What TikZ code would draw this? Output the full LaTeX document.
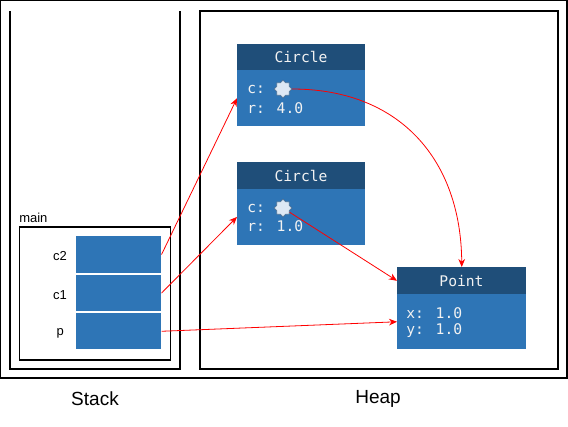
\documentclass[tikz,border=0pt]{standalone}
\usepackage{fontspec}
\setmainfont{Liberation Sans}
\newfontfamily\monofont{DejaVu Sans Mono}
\usetikzlibrary{shapes.geometric,arrows.meta}
\definecolor{hdr}{HTML}{1F4E79}
\definecolor{bdy}{HTML}{2E75B6}
\definecolor{dotfill}{HTML}{DDE8F4}
\definecolor{txt}{HTML}{F2F2F2}
\tikzset{
  frame/.style={draw=black,line width=0.9pt},
  hdrbox/.style={fill=hdr,draw=none,inner sep=0pt,anchor=north west},
  bdybox/.style={fill=bdy,draw=none,inner sep=0pt,anchor=north west},
  cellbox/.style={fill=bdy,draw=none,inner sep=0pt,anchor=north west,minimum width=63.75pt,minimum height=27.4pt},
  hdrtxt/.style={text=txt,font=\monofont\fontsize{11}{13}\selectfont,inner sep=0pt},
  fieldtxt/.style={text=txt,font=\monofont\fontsize{11}{13}\selectfont,inner sep=0pt,anchor=west},
  lbl/.style={font=\fontsize{9.75}{11}\selectfont,inner sep=0pt},
  biglbl/.style={font=\fontsize{14.25}{16}\selectfont,inner sep=0pt},
  ptr/.style={star,star points=8,star point ratio=1.3,fill=dotfill,draw=hdr!80,line width=0.4pt,inner sep=0pt,minimum size=13pt},
  arr/.style={draw=red,line width=0.6pt,-{Stealth[length=6pt,width=5pt]}},
}
\begin{document}
\begin{tikzpicture}[x=0.75pt,y=-0.75pt]
\useasboundingbox (0,0) rectangle (568,426);
% outer frame
\draw[frame] (0.5,0.5) rectangle (567,378);
% stack frame (open at top)
\draw[frame] (10,11) -- (10,369) -- (180,369) -- (180,11);
% heap frame
\draw[frame] (200,11) rectangle (558,369);
% main frame
\draw[frame] (19.5,227) rectangle (170.5,360);
\node[lbl,anchor=south west] (mainlbl) at (19,223) {main};
% cells
\node[cellbox,minimum height=27.4pt] (cc2) at (76,236) {};
\node[cellbox,minimum height=27.4pt] (cc1) at (76,274.5) {};
\node[cellbox,minimum height=27pt] (cp) at (76,313) {};
\node[lbl,anchor=east] (lc2) at (67,256) {c2};
\node[lbl,anchor=east] (lc1) at (67,295) {c1};
\node[lbl,anchor=east] (lp) at (64,333) {p};
% labels
\node[biglbl] (stacklbl) at (95,399) {Stack};
\node[biglbl] (heaplbl) at (378,399) {Heap};
% Circle 1
\node[hdrbox,minimum width=96pt,minimum height=19.5pt] (h1) at (237,44) {};
\node[bdybox,minimum width=96pt,minimum height=42pt] (b1) at (237,70) {};
\node[hdrtxt] (t1) at (301,57) {Circle};
\node[fieldtxt] (f1a) at (247,89) {c:};
\node[fieldtxt] (f1b) at (247,108) {r: 4.0};
% Circle 2
\node[hdrbox,minimum width=96pt,minimum height=20.25pt] (h2) at (237,162) {};
\node[bdybox,minimum width=96pt,minimum height=41.5pt] (b2) at (237,189) {};
\node[hdrtxt] (t2) at (301,175.5) {Circle};
\node[fieldtxt] (f2a) at (247,208) {c:};
\node[fieldtxt] (f2b) at (247,226) {r: 1.0};
% Point
\node[hdrbox,minimum width=96.75pt,minimum height=20.25pt] (h3) at (397,267) {};
\node[bdybox,minimum width=96.75pt,minimum height=41.25pt] (b3) at (397,294) {};
\node[hdrtxt] (t3) at (461.5,281.5) {Point};
\node[fieldtxt] (f3a) at (406,313) {x: 1.0};
\node[fieldtxt] (f3b) at (406,331) {y: 1.0};
% arrows
\draw[arr] (cc2.east) -- (b1.west);
\draw[arr] (cc1.east) -- (b2.west);
\draw[arr] (cp.east) -- (b3.west);
\node[ptr] (d1) at (283,89) {};
\node[ptr] (d2) at (283,208) {};
\draw[arr] (d1.east) .. controls (400,89) and (461,160) .. (h3.north);
\draw[arr] (d2) -- (h3.west);
\node[ptr] at (d1) {};
\node[ptr] at (d2) {};
\end{tikzpicture}
\end{document}
